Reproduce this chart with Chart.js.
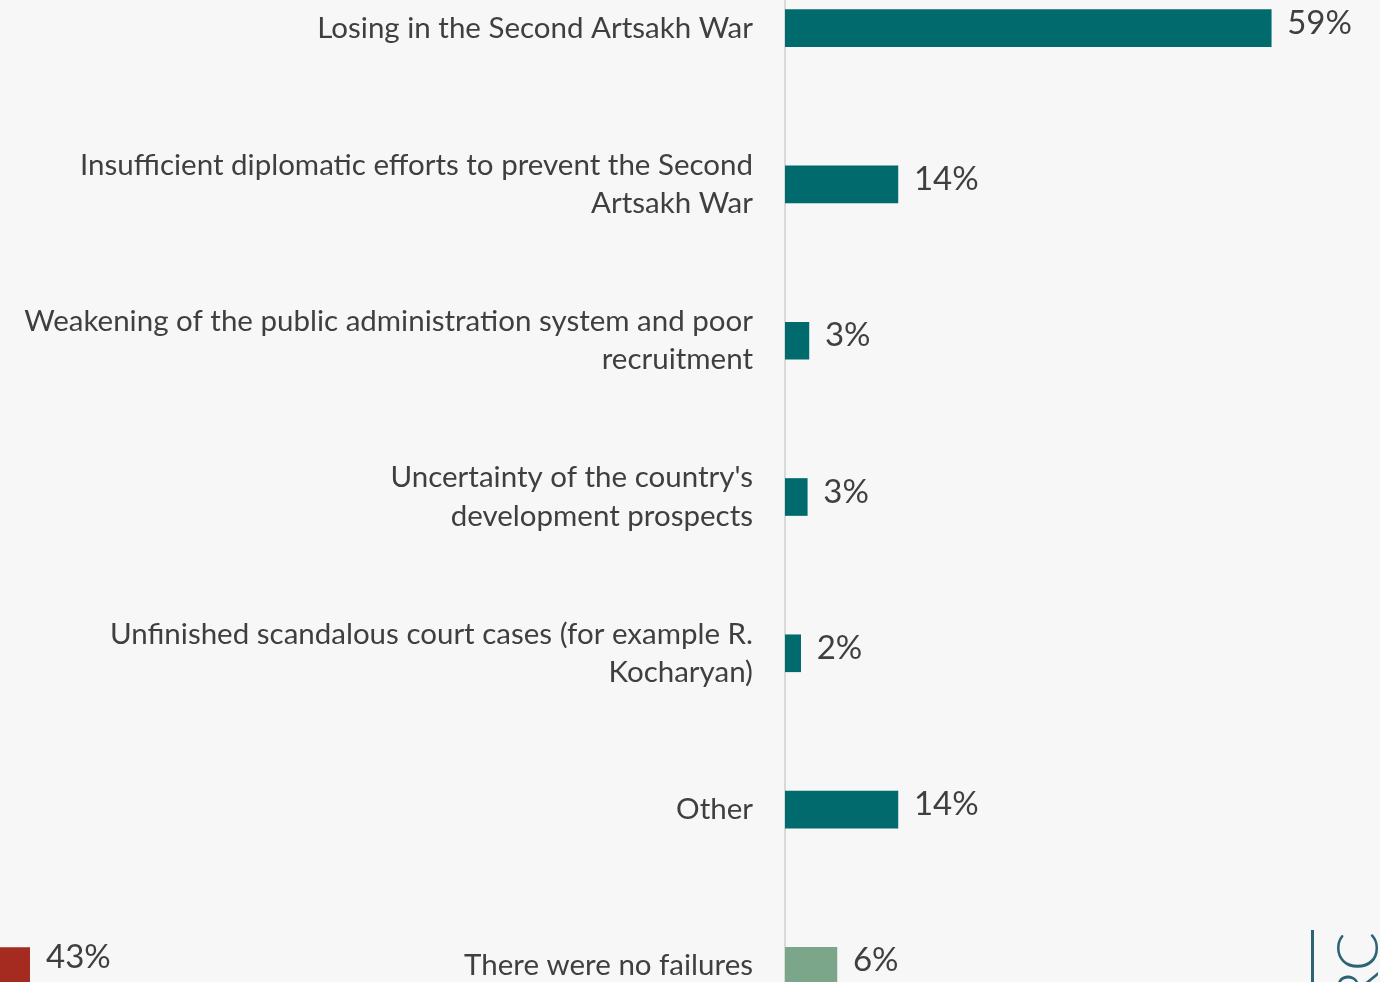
<!DOCTYPE html>
<html>
<head>
<meta charset="utf-8">
<script src="https://cdn.jsdelivr.net/npm/chart.js@4.4.1/dist/chart.umd.min.js"></script>
<style>
  html, body { margin: 0; padding: 0; background: #f7f7f7; overflow: hidden; }
  body { width: 1380px; height: 982px; position: relative; }
  #mainChart { position: absolute; left: 0; top: -50px; }
  #sideChart { position: absolute; left: -400px; top: 888px; }
  #logoBar { position: absolute; left: 1311px; top: 930px; width: 3px; height: 60px; background: #2d6475; }
  #logoText { position: absolute; left: 1327px; top: 1232px; width: 300px; text-align: right;
    font-family: Lato, sans-serif; font-weight: 300; font-size: 58px; color: #2d6475;
    transform: rotate(-90deg); transform-origin: left top; white-space: nowrap; line-height: 1; }
</style>
</head>
<body>
<canvas id="mainChart" width="1380" height="1094"></canvas>
<canvas id="sideChart" width="530" height="156"></canvas>
<div id="logoBar"></div>
<div id="logoText">CRRC</div>
<script>
// categories (left labels)
var reasons = [
  'Losing in the Second Artsakh War',
  ['Insufficient diplomatic efforts to prevent the Second', 'Artsakh War'],
  ['Weakening of the public administration system and poor', 'recruitment'],
  ["Uncertainty of the country's", 'development prospects'],
  ['Unfinished scandalous court cases (for example R.', 'Kocharyan)'],
  'Other',
  'There were no failures'
];
// share of answers, %
var shares = [59, 13.7, 2.9, 2.7, 1.9, 13.7, 6.3];
var shareLabels = ['59%', '14%', '3%', '3%', '2%', '14%', '6%'];
var barColors = ['#016a6d', '#016a6d', '#016a6d', '#016a6d', '#016a6d', '#016a6d', '#7ba68a'];

// cut-off neighbour chart at the bottom left
var sideValue = [43];
var sideLabel = ['43%'];

var textColor = '#3f3f3f';

var valueLabels = {
  id: 'valueLabels',
  afterDatasetsDraw: function (chart, args, opts) {
    var c = chart.ctx;
    var meta = chart.getDatasetMeta(0);
    c.save();
    c.font = '33px Lato, sans-serif';
    c.fillStyle = textColor;
    c.textAlign = 'left';
    c.textBaseline = 'middle';
    meta.data.forEach(function (bar, i) {
      c.fillText(opts.labels[i], bar.x + 16, bar.y + opts.dy);
    });
    c.restore();
  }
};

var ctx = document.getElementById('mainChart');
var mainChart = new Chart(ctx, {
  type: 'bar',
  data: {
    labels: reasons,
    datasets: [{
      data: shares,
      backgroundColor: barColors,
      barThickness: 37
    }]
  },
  options: {
    indexAxis: 'y',
    responsive: false,
    animation: false,
    layout: { padding: 0 },
    plugins: {
      legend: { display: false },
      tooltip: { enabled: false },
      valueLabels: { labels: shareLabels, dy: -5 }
    },
    scales: {
      x: { display: false, min: 0, max: 72.2 },
      y: {
        grid: { display: false, drawTicks: false },
        border: { display: true, color: '#d9d9d9', width: 2 },
        ticks: {
          padding: 32,
          color: textColor,
          font: { family: 'Lato, sans-serif', size: 29.5, lineHeight: 1.29 }
        },
        afterFit: function (scale) {
          scale.width = 785;
          scale.paddingTop = 0;
          scale.paddingBottom = 0;
        }
      }
    }
  },
  plugins: [valueLabels]
});

var ctx2 = document.getElementById('sideChart');
var sideChart = new Chart(ctx2, {
  type: 'bar',
  data: {
    labels: [''],
    datasets: [{
      data: sideValue,
      backgroundColor: '#a52a1f',
      barThickness: 37
    }]
  },
  options: {
    indexAxis: 'y',
    responsive: false,
    animation: false,
    layout: { padding: { right: 100 } },
    plugins: {
      legend: { display: false },
      tooltip: { enabled: false },
      valueLabels: { labels: sideLabel, dy: -9 }
    },
    scales: {
      x: { display: false, min: 0, max: 43 },
      y: { display: false }
    }
  },
  plugins: [valueLabels]
});
</script>
</body>
</html>
